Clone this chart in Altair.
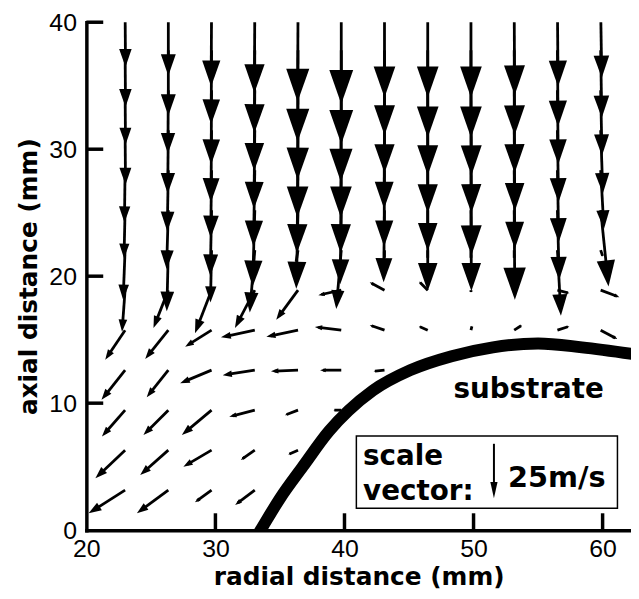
import numpy as np
import pandas as pd
import altair as alt

# ---------------- data ----------------
# grid of vector tails (mm)
X_MM = [23.0, 26.35, 29.7, 33.05, 36.4, 39.75, 43.1, 46.45, 49.8, 53.15, 56.5, 59.85]
Y_MM = [3.15, 6.3, 9.45, 12.6, 15.75, 18.9, 22.05, 25.2, 28.35, 31.5, 34.65, 37.8, 40.95]

N = None
# radial velocity component (m/s), one list per row (bottom to top)
U_ROWS = [
    [-16.7, -14.4, -7.6, -9.0, N, N, N, N, N, N, N, N],
    [-13.6, -12.9, -12.9, -6.4, -4.5, N, N, N, N, N, N, N],
    [-10.6, -11.4, -13.6, -11.7, -6.0, -3.6, N, N, N, N, N, N],
    [-10.8, -9.9, -14.4, -14.7, -12.4, -9.7, -5.0, N, N, N, N, N],
    [-9.1, -10.6, -12.1, -15.5, -14.5, -12.1, -6.8, -4.1, 0.5, 3.6, 5.5, 7.7],
    [-1.4, -6.8, -7.6, -9.1, -10.0, -10.5, -6.8, -4.0, 0.0, 0.0, 5.5, 8.6],
    [-0.9, -0.7, -0.5, -2.3, -1.0, -2.3, 0.0, 0.0, 0.0, 0.0, 1.6, 1.0],
    [-0.5, -0.8, -0.6, -1.0, -0.8, -0.5, -0.4, 0.0, 0.2, 0.3, 0.8, 3.6],
    [-0.3, -0.5, -0.4, -0.6, -0.5, -0.3, -0.2, 0.0, 0.2, 0.3, 0.6, 1.5],
    [0.2, -0.3, -0.3, -0.4, -0.3, -0.2, -0.2, 0.0, 0.2, 0.3, 0.5, 1.0],
    [0.2, -0.2, -0.2, -0.3, -0.2, -0.2, 0.0, 0.0, 0.2, 0.2, 0.4, 0.6],
    [0.2, 0.0, -0.2, -0.2, -0.2, 0.0, 0.0, 0.0, 0.0, 0.2, 0.3, 0.5],
    [0.2, 0.0, -0.2, -0.2, -0.2, 0.0, 0.0, 0.0, 0.0, 0.2, 0.3, 0.5],
]
# axial velocity component (m/s)
V_ROWS = [
    [-10.6, -10.6, -5.6, -6.8, N, N, N, N, N, N, N, N],
    [-12.9, -11.4, -7.6, -4.5, -2.0, N, N, N, N, N, N, N],
    [-12.1, -11.4, -11.4, -3.0, -2.3, 0.0, N, N, N, N, N, N],
    [-13.6, -12.4, -6.0, -2.3, -0.5, 0.0, -0.5, N, N, N, N, N],
    [-13.6, -13.2, -7.6, -3.3, -3.0, 1.5, 2.3, 1.8, 2.0, 2.3, 1.8, -4.1],
    [-19.1, -17.3, -19.7, -17.3, -13.6, -2.3, 3.6, 4.0, -1.0, -1.0, -1.4, -3.2],
    [-22.7, -28.0, -24.0, -28.6, -6.0, -27.0, -4.0, -4.0, -4.0, -4.0, -30.0, -3.0],
    [-22, -27, -30, -35, -36, -34, -33, -37, -37, -41, -32, -35],
    [-24, -28, -31, -35, -38, -38, -35, -37, -39, -36, -33, -27],
    [-25, -29, -33, -36, -40, -40, -36, -38, -38, -37, -33, -29],
    [-25, -29, -34, -37, -41, -42, -38, -39, -39, -38, -34, -30],
    [-26, -30, -34, -38, -42, -43, -39, -40, -40, -39, -35, -31],
    [-26, -30, -35, -38, -42, -43, -40, -40, -40, -39, -35, -31],
]

# substrate surface (mm)
SUB_X = [33.1, 33.5, 35.0, 36.8, 38.8, 40.3, 42.2, 45.1, 48.3, 51.5, 55.0, 58.4, 62.5]
SUB_Y = [-0.67, 0.0, 2.5, 5.05, 7.8, 9.4, 11.0, 12.6, 13.7, 14.4, 14.7, 14.4, 13.85]

# scale vector
SCALE_U = [0.0]
SCALE_V = [-25.0]

X_TICKS = [20, 30, 40, 50, 60]
Y_TICKS = [0, 10, 20, 30, 40]
X_INNER_TICKS = [30, 40, 50, 60]
Y_INNER_TICKS = [10, 20, 30, 40]

# ---------------- geometry helpers ----------------
W, H = 549, 512
XDOM = [20, 62.2]
YDOM = [0, 40]
KX = W / (XDOM[1] - XDOM[0])
KY = H / (YDOM[1] - YDOM[0])
PX_PER_MS = 2.2


def head_len_vector(L):
    # head grows a little faster than the vector itself (as drawn in the reference)
    return 0.24 * L + 0.0013 * L ** 2


def head_len_scale(L):
    return 0.3 * L


def arrow_frame(xs, ys, us, vs, head_fn):
    df = pd.DataFrame({"x": xs, "y": ys, "u": us, "v": vs})
    L = np.hypot(df.u, df.v) * PX_PER_MS
    head = np.minimum(head_fn(L), 0.6 * L)
    df["xt"] = df.x + df.u * PX_PER_MS / KX
    df["yt"] = df.y + df.v * PX_PER_MS / KY
    frac = 1 - 0.5 * head / L
    df["xe"] = df.x + df.u * PX_PER_MS * frac / KX
    df["ye"] = df.y + df.v * PX_PER_MS * frac / KY
    df["ang"] = np.degrees(np.arctan2(-df.u, -df.v)) % 360
    df["sz"] = (2 * head) ** 2
    return df


rx, ry, ru, rv = [], [], [], []
for j, yv in enumerate(Y_MM):
    for i, xv in enumerate(X_MM):
        u = U_ROWS[j][i]
        v = V_ROWS[j][i]
        if u is None or v is None:
            continue
        rx.append(xv); ry.append(yv); ru.append(u); rv.append(v)
vec = arrow_frame(rx, ry, ru, rv, head_len_vector)
scl = arrow_frame([51.58], [6.8], SCALE_U, SCALE_V, head_len_scale)
sub = pd.DataFrame({"x": SUB_X, "y": SUB_Y})

xs = alt.Scale(domain=XDOM, nice=False, zero=False)
ys = alt.Scale(domain=YDOM, nice=False, zero=False)

TITLE_FONT = "DejaVu Sans"
LABEL_FONT = "Liberation Sans"

x_axis = alt.Axis(values=X_TICKS, title="radial distance (mm)", grid=False,
                  ticks=False, tickSize=0, labelFontSize=25, labelFont=LABEL_FONT,
                  labelColor="black", labelPadding=7, labelFlush=False,
                  labelOverlap=False, domainColor="black", domainWidth=3.5,
                  domainCap="square", titleFont=TITLE_FONT, titleFontSize=25,
                  titleFontWeight="bold", titleColor="black", titleY=55,
                  titleBaseline="alphabetic")
y_axis = alt.Axis(values=Y_TICKS, title="axial distance (mm)", grid=False,
                  ticks=False, tickSize=0, labelFontSize=25, labelFont=LABEL_FONT,
                  labelColor="black", labelPadding=10, labelFlush=False,
                  labelOverlap=False, domainColor="black", domainWidth=3.5,
                  domainCap="square", titleFont=TITLE_FONT, titleFontSize=25,
                  titleFontWeight="bold", titleColor="black", titleX=-50,
                  titleBaseline="alphabetic")


def X(f):
    return alt.X(f, scale=xs, axis=x_axis, title="radial distance (mm)")


def Y(f):
    return alt.Y(f, scale=ys, axis=y_axis, title="axial distance (mm)")


HEAD_PATH = "M0,0L-0.35,-1L0.35,-1Z"
THIN_HEAD_PATH = "M0,0L-0.22,-1L0.22,-1Z"

shafts = alt.Chart(vec).mark_rule(color="black", strokeWidth=2.8, clip=True).encode(
    x=X("x:Q"), y=Y("y:Q"), x2="xe:Q", y2="ye:Q",
)
heads = alt.Chart(vec).mark_point(shape=HEAD_PATH, filled=True, color="black",
                                  opacity=1, clip=True).encode(
    x=X("xt:Q"), y=Y("yt:Q"),
    angle=alt.Angle("ang:Q", scale=None),
    size=alt.Size("sz:Q", scale=None),
)
substrate = alt.Chart(sub).mark_line(color="black", strokeWidth=12, clip=True,
                                     interpolate="monotone").encode(
    x=X("x:Q"), y=Y("y:Q"),
)
xt = alt.Chart(pd.DataFrame({"t": X_INNER_TICKS})).mark_rule(color="black", strokeWidth=3.5).encode(
    x=X("t:Q"), y=alt.value(H), y2=alt.value(H - 17),
)
yt = alt.Chart(pd.DataFrame({"t": Y_INNER_TICKS})).mark_rule(color="black", strokeWidth=3.5).encode(
    y=Y("t:Q"), x=alt.value(0), x2=alt.value(17),
)
box = alt.Chart().mark_rect(fill="white", stroke="black", strokeWidth=1.5).encode(
    x=alt.XDatum(40.92, scale=xs, axis=x_axis, title="radial distance (mm)"),
    x2=alt.X2Datum(61.15),
    y=alt.YDatum(1.72, scale=ys, axis=y_axis, title="axial distance (mm)"),
    y2=alt.Y2Datum(7.41),
)
scale_shaft = alt.Chart(scl).mark_rule(color="black", strokeWidth=2).encode(
    x=X("x:Q"), y=Y("y:Q"), x2="xe:Q", y2="ye:Q",
)
scale_head = alt.Chart(scl).mark_point(shape=THIN_HEAD_PATH, filled=True, color="black",
                                       opacity=1).encode(
    x=X("xt:Q"), y=Y("yt:Q"),
    angle=alt.Angle("ang:Q", scale=None), size=alt.Size("sz:Q", scale=None),
)


def label(txt, x, y, size):
    return alt.Chart().mark_text(text=txt, font=TITLE_FONT, fontWeight="bold",
                                 fontSize=size, align="left", baseline="alphabetic",
                                 color="black").encode(
        x=alt.XDatum(x, scale=xs, axis=x_axis, title="radial distance (mm)"),
        y=alt.YDatum(y, scale=ys, axis=y_axis, title="axial distance (mm)"))


t_sub = label("substrate", 48.44, 10.39, 28)
t_scale = label("scale", 41.44, 5.11, 28)
t_vec = label("vector:", 41.44, 2.37, 28)
t_val = label("25m/s", 52.67, 3.41, 29)

chart = alt.layer(shafts, heads, substrate, xt, yt, box, scale_shaft, scale_head,
                  t_sub, t_scale, t_vec, t_val).properties(
    width=W, height=H,
    padding={"left": 79, "top": 12, "right": 0, "bottom": 59},
    autosize=alt.AutoSizeParams(type="none"),
    background="white",
).configure_view(stroke=None)

chart.save("out.html", embed_options={"renderer": "svg", "actions": False})
